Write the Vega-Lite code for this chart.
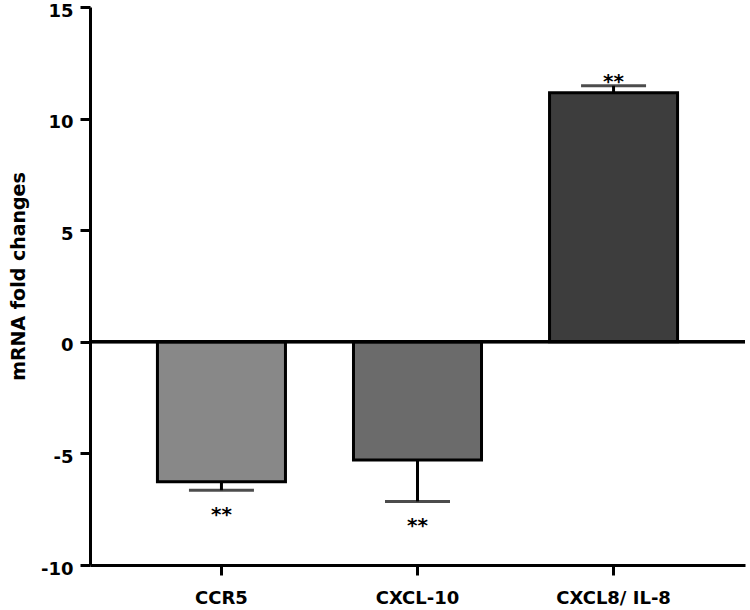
{
  "$schema": "https://vega.github.io/schema/vega-lite/v6.json",
  "width": 655,
  "height": 558,
  "autosize": {"type": "none"},
  "padding": {"left": 90, "top": 7, "right": 5, "bottom": 45},
  "background": "white",
  "config": {
    "view": {"stroke": null},
    "font": "DejaVu Sans"
  },
  "data": {
    "values": [
      {"gene": "CCR5", "mean": -6.27, "errEnd": -6.65, "sig": "**"},
      {"gene": "CXCL-10", "mean": -5.30, "errEnd": -7.15, "sig": "**"},
      {"gene": "CXCL8/ IL-8", "mean": 11.16, "errEnd": 11.47, "sig": "**"}
    ]
  },
  "encoding": {
    "x": {
      "field": "gene",
      "type": "nominal",
      "sort": null,
      "scale": {"paddingInner": 0.347, "paddingOuter": 0.344},
      "axis": {
        "title": null,
        "labelAngle": 0,
        "labelFont": "DejaVu Sans",
        "labelFontSize": 18,
        "labelFontWeight": "bold",
        "labelColor": "black",
        "labelPadding": 14,
        "domainColor": "black",
        "domainWidth": 3,
        "tickColor": "black",
        "tickWidth": 3,
        "tickSize": 10
      }
    }
  },
  "layer": [
    {
      "mark": {"type": "rule", "color": "black", "strokeWidth": 3},
      "encoding": {
        "y": {"field": "mean", "type": "quantitative"},
        "y2": {"field": "errEnd"}
      }
    },
    {
      "mark": {"type": "bar", "stroke": "black", "strokeWidth": 3},
      "encoding": {
        "y": {
          "field": "mean",
          "type": "quantitative",
          "scale": {"domain": [-10, 15], "nice": false, "zero": true},
          "axis": {
            "title": "mRNA fold changes",
            "titleFont": "DejaVu Sans",
            "titleFontSize": 19,
            "titleFontWeight": "bold",
            "titleColor": "black",
            "titleX": -72,
            "titleY": 269,
            "titleAlign": "center",
            "titleBaseline": "middle",
            "titleAngle": -90,
            "values": [-10, -5, 0, 5, 10, 15],
            "labelExpr": "datum.value + ''",
            "grid": false,
            "labelFont": "DejaVu Sans",
            "labelFontSize": 18,
            "labelFontWeight": "bold",
            "labelColor": "black",
            "labelPadding": 7,
            "labelOffset": 4,
            "labelBaseline": "middle",
            "domainColor": "black",
            "domainWidth": 3,
            "tickColor": "black",
            "tickWidth": 3,
            "tickSize": 10
          }
        },
        "y2": {"datum": 0},
        "fill": {
          "field": "gene",
          "type": "nominal",
          "scale": {"range": ["#888888", "#6b6b6b", "#3d3d3d"]},
          "legend": null
        }
      }
    },
    {
      "mark": {"type": "tick", "color": "black", "thickness": 3, "size": 65},
      "encoding": {
        "y": {"field": "errEnd", "type": "quantitative"}
      }
    },
    {
      "mark": {"type": "rule", "color": "black", "strokeWidth": 3},
      "encoding": {
        "y": {"datum": 0},
        "x": {"value": 0},
        "x2": {"value": 655}
      }
    },
    {
      "transform": [{"filter": "datum.mean < 0"}],
      "mark": {"type": "text", "font": "DejaVu Sans", "fontSize": 20, "fontWeight": "bold", "baseline": "middle", "dy": 25, "color": "black"},
      "encoding": {
        "y": {"field": "errEnd", "type": "quantitative"},
        "text": {"field": "sig"}
      }
    },
    {
      "transform": [{"filter": "datum.mean > 0"}],
      "mark": {"type": "text", "font": "DejaVu Sans", "fontSize": 20, "fontWeight": "bold", "baseline": "middle", "dy": -4, "color": "black"},
      "encoding": {
        "y": {"field": "errEnd", "type": "quantitative"},
        "text": {"field": "sig"}
      }
    }
  ]
}
